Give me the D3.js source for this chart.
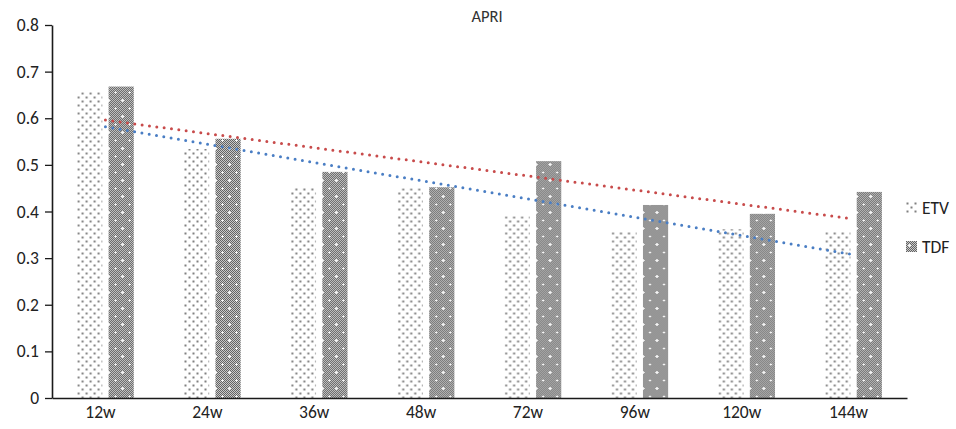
<!DOCTYPE html>
<html>
<head>
<meta charset="utf-8">
<script src="https://cdn.jsdelivr.net/npm/d3@7"></script>
<style>
  body { margin: 0; background: #fff; }
  text { font-family: Carlito, Calibri, Lato, sans-serif; }
</style>
</head>
<body>
<div id="chart"></div>
<script>
// data
var categories = ["12w", "24w", "36w", "48w", "72w", "96w", "120w", "144w"];
var seriesNames = ["ETV", "TDF"];
var etv = [0.656, 0.534, 0.451, 0.45, 0.39, 0.356, 0.362, 0.358];
var tdf = [0.668, 0.556, 0.485, 0.452, 0.508, 0.414, 0.395, 0.442];
var yTicks = [0, 0.1, 0.2, 0.3, 0.4, 0.5, 0.6, 0.7, 0.8];
var trendColors = { ETV: "#4a7ec4", TDF: "#c84b4b" };

var width = 956, height = 429;
var margin = { top: 25, right: 49, bottom: 31, left: 52 };
var fontStack = "Carlito, Calibri, Lato, sans-serif";

var svg = d3.select("#chart").append("svg")
  .attr("width", width)
  .attr("height", height);

// patterns
var defs = svg.append("defs");
var pEtv = defs.append("pattern")
  .attr("id", "pat-etv")
  .attr("patternUnits", "userSpaceOnUse")
  .attr("width", 8).attr("height", 8);
pEtv.append("rect").attr("width", 8).attr("height", 8).attr("fill", "#fff");
[[1.5, 1.5], [5.5, 5.5]].forEach(function (d) {
  pEtv.append("rect").attr("x", d[0] - 1).attr("y", d[1] - 1)
    .attr("width", 2).attr("height", 2).attr("fill", "#808080");
});

var pTdf = defs.append("pattern")
  .attr("id", "pat-tdf")
  .attr("patternUnits", "userSpaceOnUse")
  .attr("width", 14).attr("height", 16);
pTdf.append("rect").attr("width", 14).attr("height", 16).attr("fill", "#cacaca");
for (var i = 0; i < 14; i++) {
  for (var j = 0; j < 16; j++) {
    if ((i + j) % 2 === 0) {
      pTdf.append("rect").attr("x", i).attr("y", j)
        .attr("width", 1).attr("height", 1).attr("fill", "#626262");
    }
  }
}
[[3, 4], [10, 12]].forEach(function (d) {
  pTdf.append("rect").attr("x", d[0] - 1).attr("y", d[1]).attr("width", 3).attr("height", 1).attr("fill", "#f4f4f4");
  pTdf.append("rect").attr("x", d[0]).attr("y", d[1] - 1).attr("width", 1).attr("height", 3).attr("fill", "#f4f4f4");
});
var fills = { ETV: "url(#pat-etv)", TDF: "url(#pat-tdf)" };

var x0 = d3.scaleBand()
  .domain(categories)
  .range([margin.left, width - margin.right])
  .paddingInner(0.47)
  .paddingOuter(0.235);
var x1 = d3.scaleBand()
  .domain(seriesNames)
  .range([0, x0.bandwidth()])
  .paddingInner(0.2);
var y = d3.scaleLinear()
  .domain([0, 0.8])
  .range([height - margin.bottom, margin.top]);

var rows = categories.map(function (c, i) {
  return { cat: c, ETV: etv[i], TDF: tdf[i] };
});

// bars
svg.append("g").selectAll("g")
  .data(rows)
  .join("g")
  .attr("transform", function (d) { return "translate(" + x0(d.cat) + ",0)"; })
  .selectAll("rect")
  .data(function (d) { return seriesNames.map(function (s) { return { s: s, v: d[s] }; }); })
  .join("rect")
  .attr("x", function (d) { return x1(d.s); })
  .attr("width", x1.bandwidth())
  .attr("y", function (d) { return y(d.v); })
  .attr("height", function (d) { return y(0) - y(d.v); })
  .attr("fill", function (d) { return fills[d.s]; });

// linear trend lines (least squares over category index)
function trend(vals) {
  var n = vals.length;
  var mx = d3.mean(vals, function (v, i) { return i; });
  var my = d3.mean(vals);
  var sxy = d3.sum(vals, function (v, i) { return (i - mx) * (v - my); });
  var sxx = d3.sum(vals, function (v, i) { return (i - mx) * (i - mx); });
  var b = sxy / sxx, a = my - b * mx;
  return [0, n - 1].map(function (i) { return { i: i, v: a + b * i }; });
}
var line = d3.line()
  .x(function (d) { return x0(categories[d.i]) + x0.bandwidth() / 2; })
  .y(function (d) { return y(d.v); });
[["TDF", tdf], ["ETV", etv]].forEach(function (s) {
  svg.append("path")
    .datum(trend(s[1]))
    .attr("fill", "none")
    .attr("stroke", trendColors[s[0]])
    .attr("stroke-width", 3)
    .attr("stroke-linecap", "round")
    .attr("stroke-dasharray", "0 7.4")
    .attr("d", line);
});

// axes
var yAxis = svg.append("g")
  .attr("transform", "translate(" + margin.left + ",0)")
  .call(d3.axisLeft(y).tickValues(yTicks).tickSize(7).tickSizeOuter(0)
    .tickFormat(function (d) { return d === 0 ? "0" : d3.format(".1f")(d); }));
yAxis.select(".domain").attr("stroke", "#1a1a1a").attr("stroke-width", 1.6);
yAxis.selectAll(".tick line").attr("stroke", "#1a1a1a").attr("stroke-width", 1.3);
yAxis.selectAll(".tick text")
  .attr("x", -13)
  .attr("font-size", 17.5)
  .attr("fill", "#222")
  .style("font-family", fontStack);

var xAxis = svg.append("g")
  .attr("transform", "translate(0," + y(0) + ")")
  .call(d3.axisBottom(x0).tickSize(0).tickSizeOuter(0));
xAxis.select(".domain").attr("stroke", "#1a1a1a").attr("stroke-width", 1.6);
xAxis.selectAll(".tick text")
  .attr("x", -5)
  .attr("y", 8)
  .attr("dy", "0.71em")
  .attr("font-size", 17.5)
  .attr("fill", "#222")
  .style("font-family", fontStack);

// title
svg.append("text")
  .attr("x", 487)
  .attr("y", 22)
  .attr("text-anchor", "middle")
  .attr("font-size", 16.5)
  .attr("fill", "#333")
  .text("APRI");

// legend
var legend = svg.append("g").selectAll("g")
  .data(seriesNames)
  .join("g")
  .attr("transform", function (d, i) { return "translate(906," + (202 + i * 39) + ")"; });
legend.append("rect")
  .attr("width", 11).attr("height", 11)
  .attr("fill", function (d) { return fills[d]; });
legend.append("text")
  .attr("x", 16)
  .attr("y", 12)
  .attr("font-size", 17.5)
  .attr("fill", "#222")
  .text(function (d) { return d; });
</script>
</body>
</html>
